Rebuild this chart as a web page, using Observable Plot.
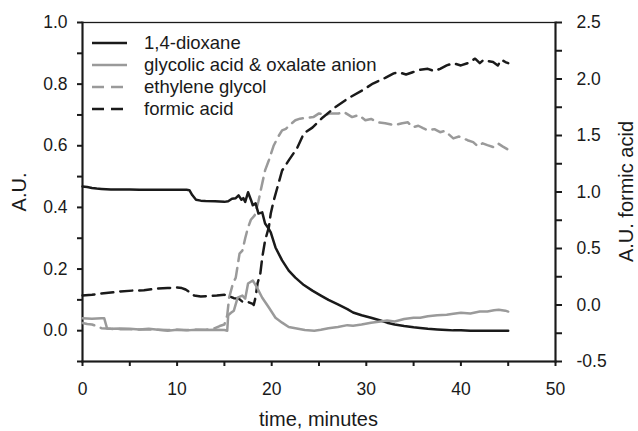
<!DOCTYPE html>
<html><head><meta charset="utf-8">
<script src="https://cdn.jsdelivr.net/npm/d3@7"></script>
<script src="https://cdn.jsdelivr.net/npm/@observablehq/plot@0.6"></script>
<style>
body{margin:0;background:#fff;}
#wrap{position:relative;width:638px;height:431px;font-family:"Liberation Sans",Arial,sans-serif;}
#legend{position:absolute;left:92px;top:32.3px;}
.row{display:flex;align-items:center;height:22px;font-size:18.5px;color:#1a1a1a;white-space:nowrap;}
.row svg{width:35px;height:10px;margin-right:17px;flex:none;}
</style></head><body><div id="wrap"><div id="legend"></div></div>
<script>
// axis ticks
const xTicks = [0, 10, 20, 30, 40, 50];
const xMinor = [5, 15, 25, 35, 45];
const yTicks = [0, 0.2, 0.4, 0.6, 0.8, 1.0];
const yMinor = [-0.1, 0.1, 0.3, 0.5, 0.7, 0.9];
const y2Ticks = [-0.5, 0, 0.5, 1, 1.5, 2, 2.5];
const y2Minor = [-0.25, 0.25, 0.75, 1.25, 1.75, 2.25];
const yDomain = [-0.1, 1.0];
const y2Domain = [-0.5, 2.5];

const seriesNames = ["1,4-dioxane", "glycolic acid & oxalate anion", "ethylene glycol", "formic acid"];

// 1,4-dioxane (left axis)
const dioxT = [0,0.5,1,1.5,2,3,4,5,6,7,8,9,10,11,11.3,11.6,12,12.5,13,14,15,15.4,15.8,16.2,16.5,16.8,17,17.2,17.5,17.8,18,18.3,18.6,19,19.3,19.6,19.9,20.4,21.1,21.8,22.5,23.4,24.3,25.2,26,27,28,28.6,29.5,30.5,31.5,32.2,33,34,35,35.7,36.5,37.5,38.5,39.2,40,41,42,43,44,45];
const dioxV = [0.468,0.466,0.463,0.461,0.46,0.458,0.458,0.458,0.457,0.457,0.457,0.457,0.457,0.457,0.456,0.44,0.425,0.422,0.421,0.42,0.418,0.42,0.428,0.43,0.439,0.425,0.43,0.418,0.449,0.425,0.407,0.413,0.38,0.384,0.348,0.335,0.319,0.27,0.228,0.195,0.172,0.148,0.13,0.114,0.1,0.085,0.07,0.059,0.05,0.042,0.033,0.026,0.02,0.015,0.011,0.009,0.006,0.004,0.002,0.001,0.001,0,0,0,0,0];

// glycolic acid & oxalate anion (left axis)
const glyT = [0,1,2,2.3,2.6,3,4,5,6,7,8,9,10,11,12,13,14,15,15.3,15.4,15.7,16,16.4,16.9,17.2,17.5,18,18.5,19,19.7,20.4,21.1,21.8,22.5,23.5,24.5,25.2,26,27,28,28.6,29.5,30.5,31.5,32.2,33,34,35,35.7,36.5,37.5,38.5,39.2,40,41,42,42.8,43.5,44,44.7,45];
const glyV = [0.04,0.039,0.04,0.04,0.007,0.006,0.007,0.006,0.004,0.006,0.003,0.0,0.003,0.001,0.003,0.002,0.003,0.002,0.0,0.05,0.058,0.065,0.107,0.114,0.104,0.153,0.163,0.137,0.107,0.075,0.042,0.026,0.012,0.008,0.002,0.0,0.003,0.008,0.012,0.018,0.016,0.02,0.026,0.03,0.033,0.03,0.038,0.042,0.042,0.047,0.05,0.052,0.055,0.058,0.056,0.062,0.062,0.066,0.068,0.065,0.062];

// ethylene glycol (left axis)
const egT = [0,0.5,1,1.6,2,3,4,5,6,7,8,9,10,11,12,13,14,14.5,15,15.3,15.5,15.9,16.2,16.6,16.9,17.2,17.5,17.8,18.2,18.6,19,19.3,19.7,20.2,20.7,21.1,21.5,22,22.5,23,23.6,24.4,25,25.7,26.2,27.1,27.6,28.5,29.2,29.9,30.5,31.2,32,32.9,33.8,34.4,34.9,35.5,36,36.5,37.2,37.8,38.3,39.2,39.8,40.7,41.3,41.8,42.3,42.8,43.4,43.9,44.4,44.9];
const egV = [0.025,0.022,0.02,0.014,0.008,0.006,0.005,0.005,0.004,0.004,0.003,0.002,0.003,0.002,0.003,0.003,0.008,0.015,0.02,0.05,0.107,0.153,0.172,0.25,0.26,0.3,0.335,0.36,0.374,0.42,0.478,0.52,0.553,0.6,0.63,0.65,0.655,0.67,0.683,0.688,0.69,0.693,0.705,0.70,0.705,0.705,0.71,0.693,0.70,0.683,0.687,0.676,0.673,0.667,0.673,0.676,0.66,0.665,0.657,0.65,0.654,0.644,0.648,0.624,0.63,0.618,0.612,0.598,0.608,0.602,0.596,0.608,0.598,0.589];

// formic acid (right axis)
const formT = [0,1,1.9,3,4,5.4,6.5,7.9,9,10,10.5,10.9,11.4,11.8,12.5,13.3,14.2,15,15.4,16,16.5,16.9,17.4,18,18.1,18.3,18.5,18.8,19,19.3,19.7,19.9,20.2,20.6,21.1,21.8,22.7,23.4,24.3,25.4,26.7,28.1,29.6,30.7,32,32.9,33.4,34.2,34.9,35.6,36.5,37.2,37.8,38.5,39.2,40,40.7,41.5,42,42.4,42.8,43.4,43.9,44.3,44.7,45];
const formV = [0.084,0.09,0.10,0.11,0.12,0.128,0.13,0.146,0.15,0.155,0.15,0.137,0.11,0.084,0.075,0.08,0.084,0.09,0.084,0.06,0.057,0.03,0.03,0.01,0.0,0.07,0.19,0.28,0.42,0.57,0.69,0.81,0.92,1.04,1.19,1.28,1.39,1.52,1.57,1.66,1.75,1.83,1.90,1.96,2.01,2.05,2.06,2.04,2.06,2.08,2.09,2.07,2.09,2.12,2.14,2.12,2.14,2.18,2.14,2.17,2.16,2.15,2.12,2.17,2.15,2.14];

const black = "#1a1a1a", gray = "#9a9a9a";
const dash = "12,7";
const toLeft = d3.scaleLinear(y2Domain, yDomain);
const rows = (t, v) => t.map((x, i) => ({t: x, v: v[i]}));

const dioxane = rows(dioxT, dioxV);
const glycolic = rows(glyT, glyV);
const eglycol = rows(egT, egV);
const formic = rows(formT, formV);

const plot = Plot.plot({
  width: 638, height: 431,
  marginLeft: 82, marginRight: 83, marginTop: 22, marginBottom: 70,
  style: {fontFamily: '"Liberation Sans", Arial, sans-serif', fontSize: "17.5px", color: black, background: "#fff"},
  x: {domain: [0, 50]},
  y: {domain: yDomain},
  marks: [
    Plot.frame({stroke: black, strokeWidth: 1.3}),
    Plot.frame({anchor: "left", stroke: black, strokeWidth: 2}),
    Plot.frame({anchor: "right", stroke: black, strokeWidth: 2}),
    Plot.frame({anchor: "bottom", stroke: black, strokeWidth: 2}),
    Plot.axisX(xTicks, {anchor: "bottom", tickSize: 5, tickPadding: 16, tickFormat: d => String(d), label: null, strokeWidth: 2}),
    Plot.axisX(xMinor, {anchor: "bottom", tickSize: 5, tickFormat: () => "", label: null, strokeWidth: 2}),
    Plot.axisY(yTicks, {anchor: "left", tickSize: 5, tickPadding: 10, tickFormat: d => d.toFixed(1), label: null, strokeWidth: 2}),
    Plot.axisY(yMinor, {anchor: "left", tickSize: 5, tickFormat: () => "", label: null, strokeWidth: 2}),
    Plot.axisY(y2Ticks, {anchor: "right", y: d => toLeft(d), tickSize: 6, tickPadding: 15, tickFormat: d => d.toFixed(1), label: null, strokeWidth: 2}),
    Plot.axisY(y2Minor, {anchor: "right", y: d => toLeft(d), tickSize: 6, tickFormat: () => "", label: null, strokeWidth: 2}),
    Plot.line(eglycol, {x: "t", y: "v", stroke: gray, strokeWidth: 2.5, strokeDasharray: dash}),
    Plot.line(formic, {x: "t", y: d => toLeft(d.v), stroke: black, strokeWidth: 2.5, strokeDasharray: dash}),
    Plot.line(dioxane, {x: "t", y: "v", stroke: black, strokeWidth: 2.5}),
    Plot.line(glycolic, {x: "t", y: "v", stroke: gray, strokeWidth: 2.5})
  ]
});

const svg = d3.select(plot);
const title = (txt, tr) => svg.append("text").attr("transform", tr).attr("text-anchor", "middle")
  .attr("font-size", "20px").attr("fill", black).text(txt);
title("time, minutes", "translate(318.5,426)");
title("A.U.", "translate(26,192) rotate(-90)");
title("A.U. formic acid", "translate(633,191.5) rotate(-90)");

document.getElementById("wrap").prepend(plot);

// legend
const styles = [
  {stroke: black, dash: null},
  {stroke: gray, dash: null},
  {stroke: gray, dash: dash},
  {stroke: black, dash: dash}
];
const leg = d3.select("#legend");
seriesNames.forEach((name, i) => {
  const r = leg.append("div").attr("class", "row");
  const s = r.append("svg").attr("viewBox", "0 0 35 10");
  s.append("line").attr("x1", 0).attr("x2", 35).attr("y1", 5).attr("y2", 5)
    .attr("stroke", styles[i].stroke).attr("stroke-width", 2.5)
    .attr("stroke-dasharray", styles[i].dash);
  r.append("span").text(name);
});
</script></body></html>
